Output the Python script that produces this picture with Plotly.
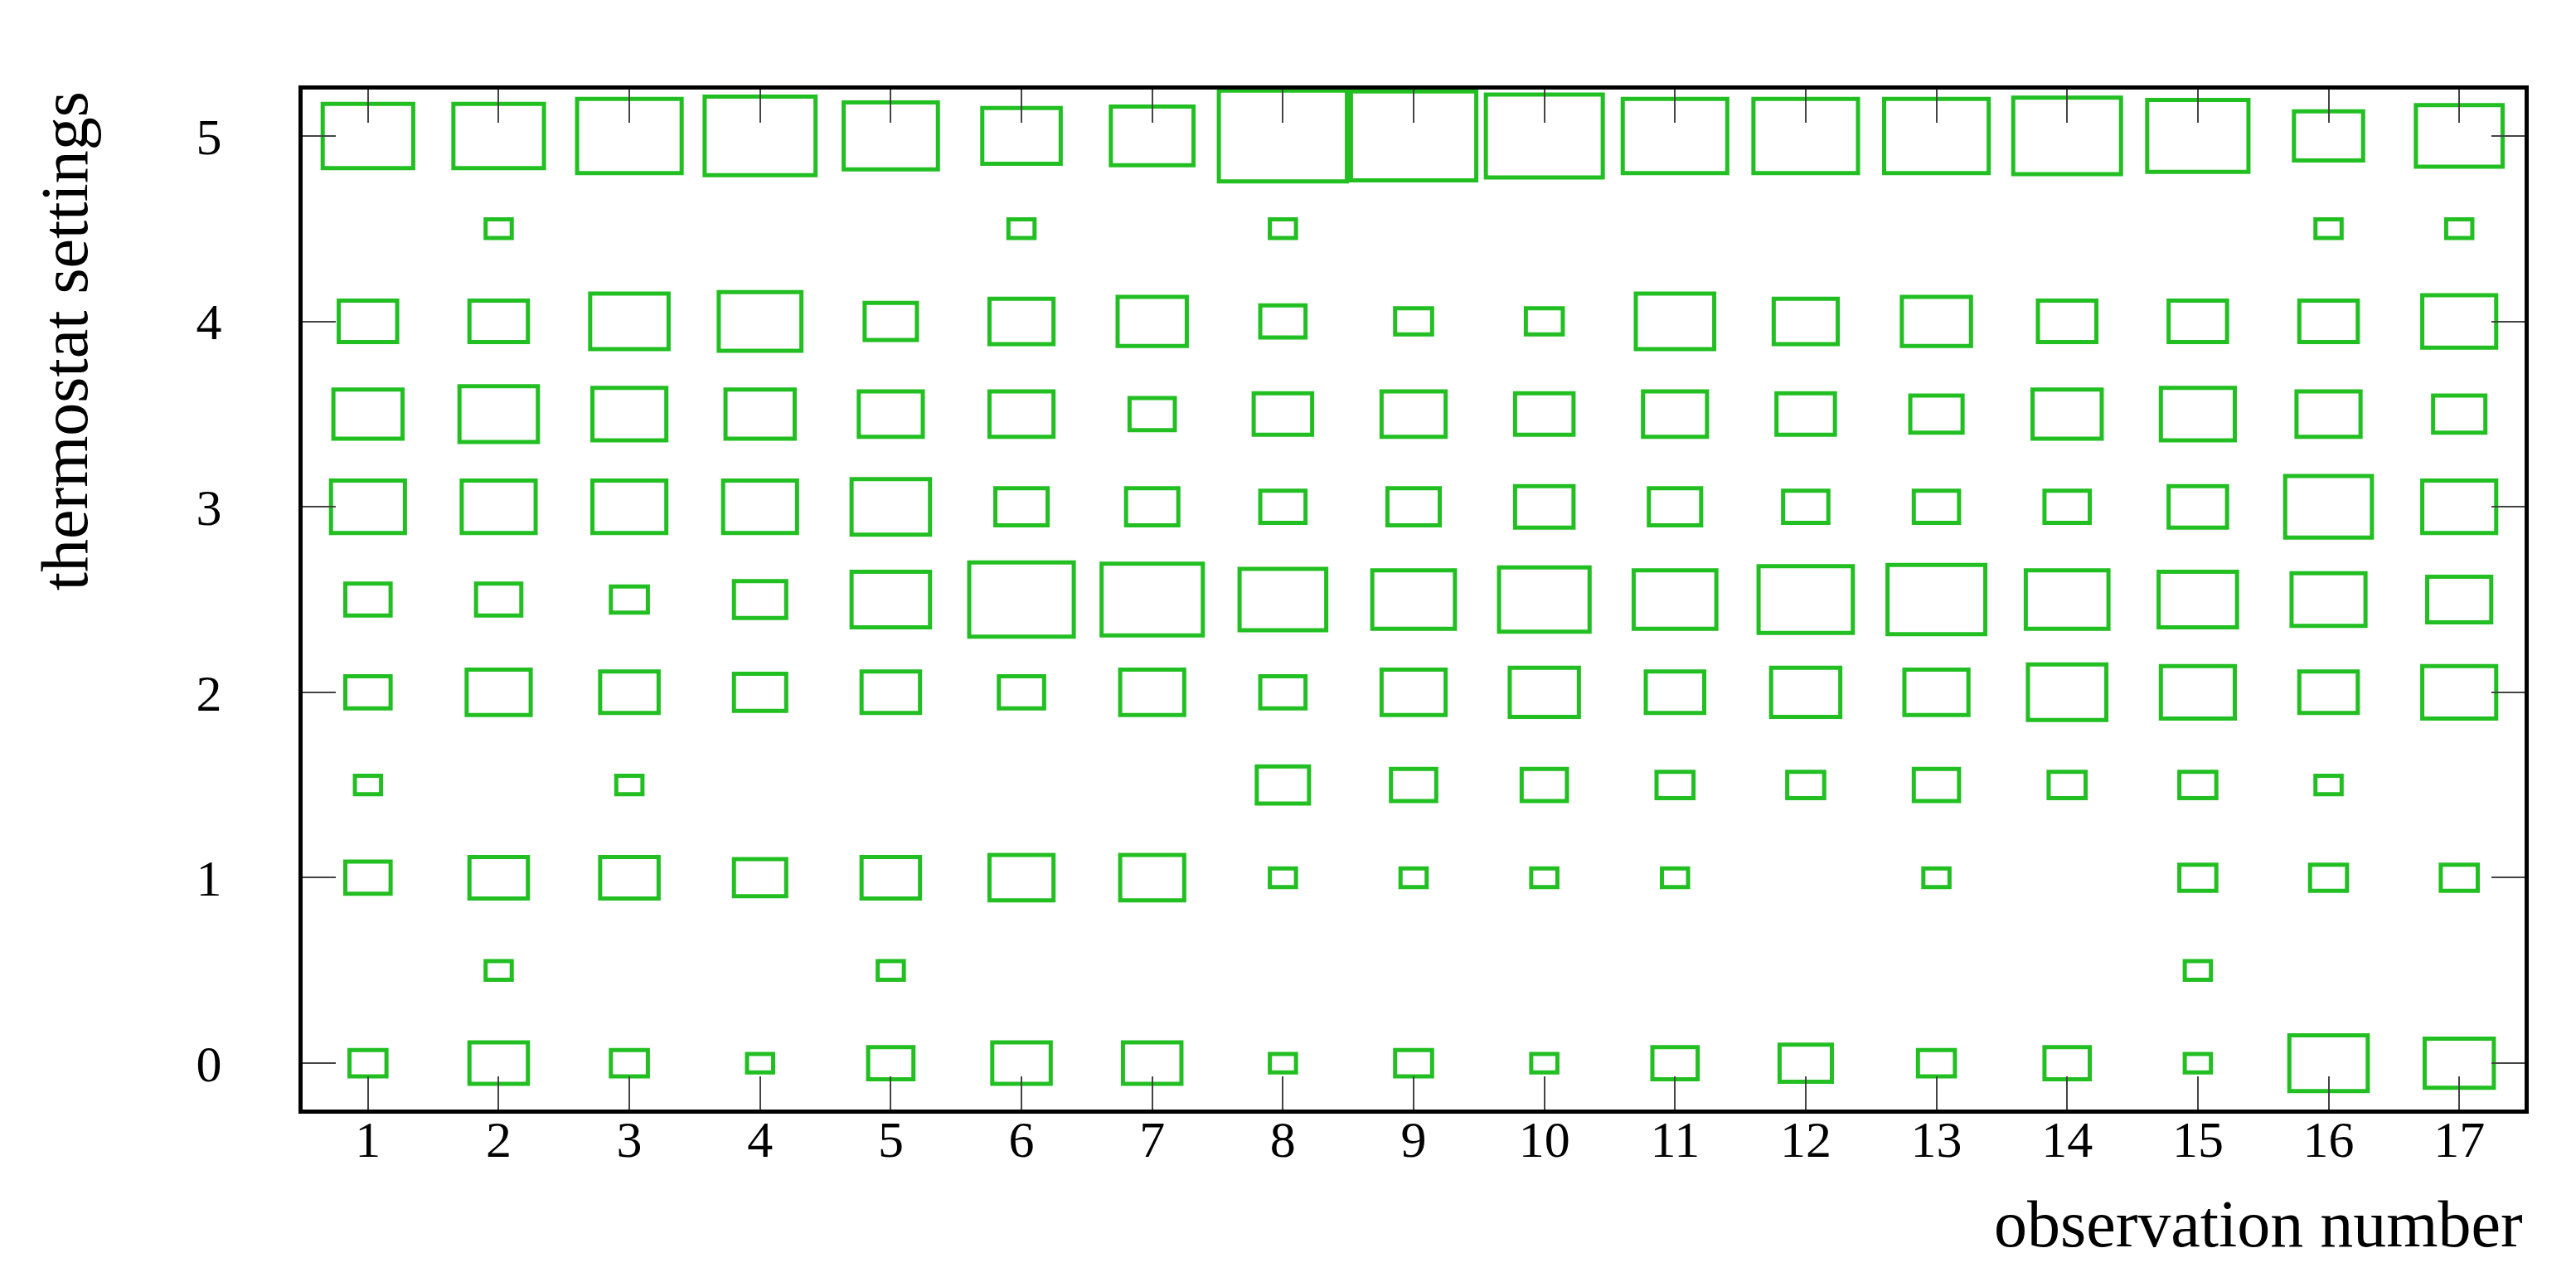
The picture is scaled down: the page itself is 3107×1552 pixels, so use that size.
import math
import plotly.graph_objects as go

# observation numbers (x) and thermostat settings (y)
observations = list(range(1, 18))
settings = [0, 0.5, 1, 1.5, 2, 2.5, 3, 3.5, 4, 4.5, 5]

# counts per setting, one value per observation (0 = no box)
counts_0_0 = [2, 5, 2, 1, 3, 5, 5, 1, 2, 1, 3, 4, 2, 3, 1, 9, 7]
counts_0_5 = [0, 1, 0, 0, 1, 0, 0, 0, 0, 0, 0, 0, 0, 0, 1, 0, 0]
counts_1_0 = [3, 5, 5, 4, 5, 6, 6, 1, 1, 1, 1, 0, 1, 0, 2, 2, 2]
counts_1_5 = [1, 0, 1, 0, 0, 0, 0, 4, 3, 3, 2, 2, 3, 2, 2, 1, 0]
counts_2_0 = [3, 6, 5, 4, 5, 3, 6, 3, 6, 7, 5, 7, 6, 9, 8, 5, 8]
counts_2_5 = [3, 3, 2, 4, 9, 16, 15, 11, 10, 12, 10, 13, 14, 10, 9, 8, 6]
counts_3_0 = [8, 8, 8, 8, 9, 4, 4, 3, 4, 5, 4, 3, 3, 3, 5, 11, 8]
counts_3_5 = [7, 9, 8, 7, 6, 6, 3, 5, 6, 5, 6, 5, 4, 7, 8, 6, 4]
counts_4_0 = [5, 5, 9, 10, 4, 6, 7, 3, 2, 2, 9, 6, 7, 5, 5, 5, 8]
counts_4_5 = [0, 1, 0, 0, 0, 1, 0, 1, 0, 0, 0, 0, 0, 0, 0, 1, 1]
counts_5_0 = [12, 12, 16, 18, 13, 9, 10, 24, 23, 20, 16, 16, 16, 17, 15, 7, 11]

counts = [counts_0_0, counts_0_5, counts_1_0, counts_1_5, counts_2_0, counts_2_5,
          counts_3_0, counts_3_5, counts_4_0, counts_4_5, counts_5_0]

x_ticks = list(range(1, 18))
y_ticks = [0, 1, 2, 3, 4, 5]

GREEN = "#22bf22"
FONT = "Liberation Serif"

# box area proportional to count
HALF_W = 0.1   # x units per sqrt(count)
HALF_H = 0.05  # y units per sqrt(count)

fig = go.Figure()

# invisible points so hover still works
hx, hy, hc = [], [], []
shapes = []
for y, row in zip(settings, counts):
    for x, n in zip(observations, row):
        if n <= 0:
            continue
        r = math.sqrt(n)
        shapes.append(dict(
            type="rect", xref="x", yref="y", layer="below",
            x0=x - HALF_W * r, x1=x + HALF_W * r,
            y0=y - HALF_H * r, y1=y + HALF_H * r,
            line=dict(color=GREEN, width=5),
            fillcolor="rgba(0,0,0,0)",
        ))
        hx.append(x)
        hy.append(y)
        hc.append(n)

fig.add_trace(go.Scatter(
    x=hx, y=hy, mode="markers", marker=dict(size=1, opacity=0),
    customdata=hc, hovertemplate="obs %{x}<br>setting %{y}<br>count %{customdata}<extra></extra>",
    showlegend=False,
))

axis_common = dict(
    showline=True, linecolor="black", linewidth=5, mirror="ticks",
    ticks="inside", ticklen=40, tickwidth=2, tickcolor="#444444",
    showgrid=False, zeroline=False,
    tickfont=dict(family=FONT, size=62, color="black"),
)

fig.update_layout(
    width=3107,
    height=1552,
    margin=dict(l=357, r=70, t=100, b=222),
    paper_bgcolor="white",
    plot_bgcolor="white",
    shapes=shapes,
    xaxis=dict(range=[0.5, 17.5], tickvals=x_ticks, ticklabelstandoff=-22, **axis_common),
    yaxis=dict(range=[-0.25, 5.25], tickvals=y_ticks, ticklabelstandoff=80, **axis_common),
    annotations=[
        dict(text="observation number", xref="paper", yref="paper",
             x=1.0, y=-0.112, xanchor="right", yanchor="middle", showarrow=False,
             font=dict(family=FONT, size=80, color="black")),
        dict(text="thermostat settings", xref="paper", yref="paper",
             x=-0.107, y=1.0, xanchor="center", yanchor="top", textangle=-90,
             showarrow=False, font=dict(family=FONT, size=80, color="black")),
    ],
)

fig.write_html("out.html")
